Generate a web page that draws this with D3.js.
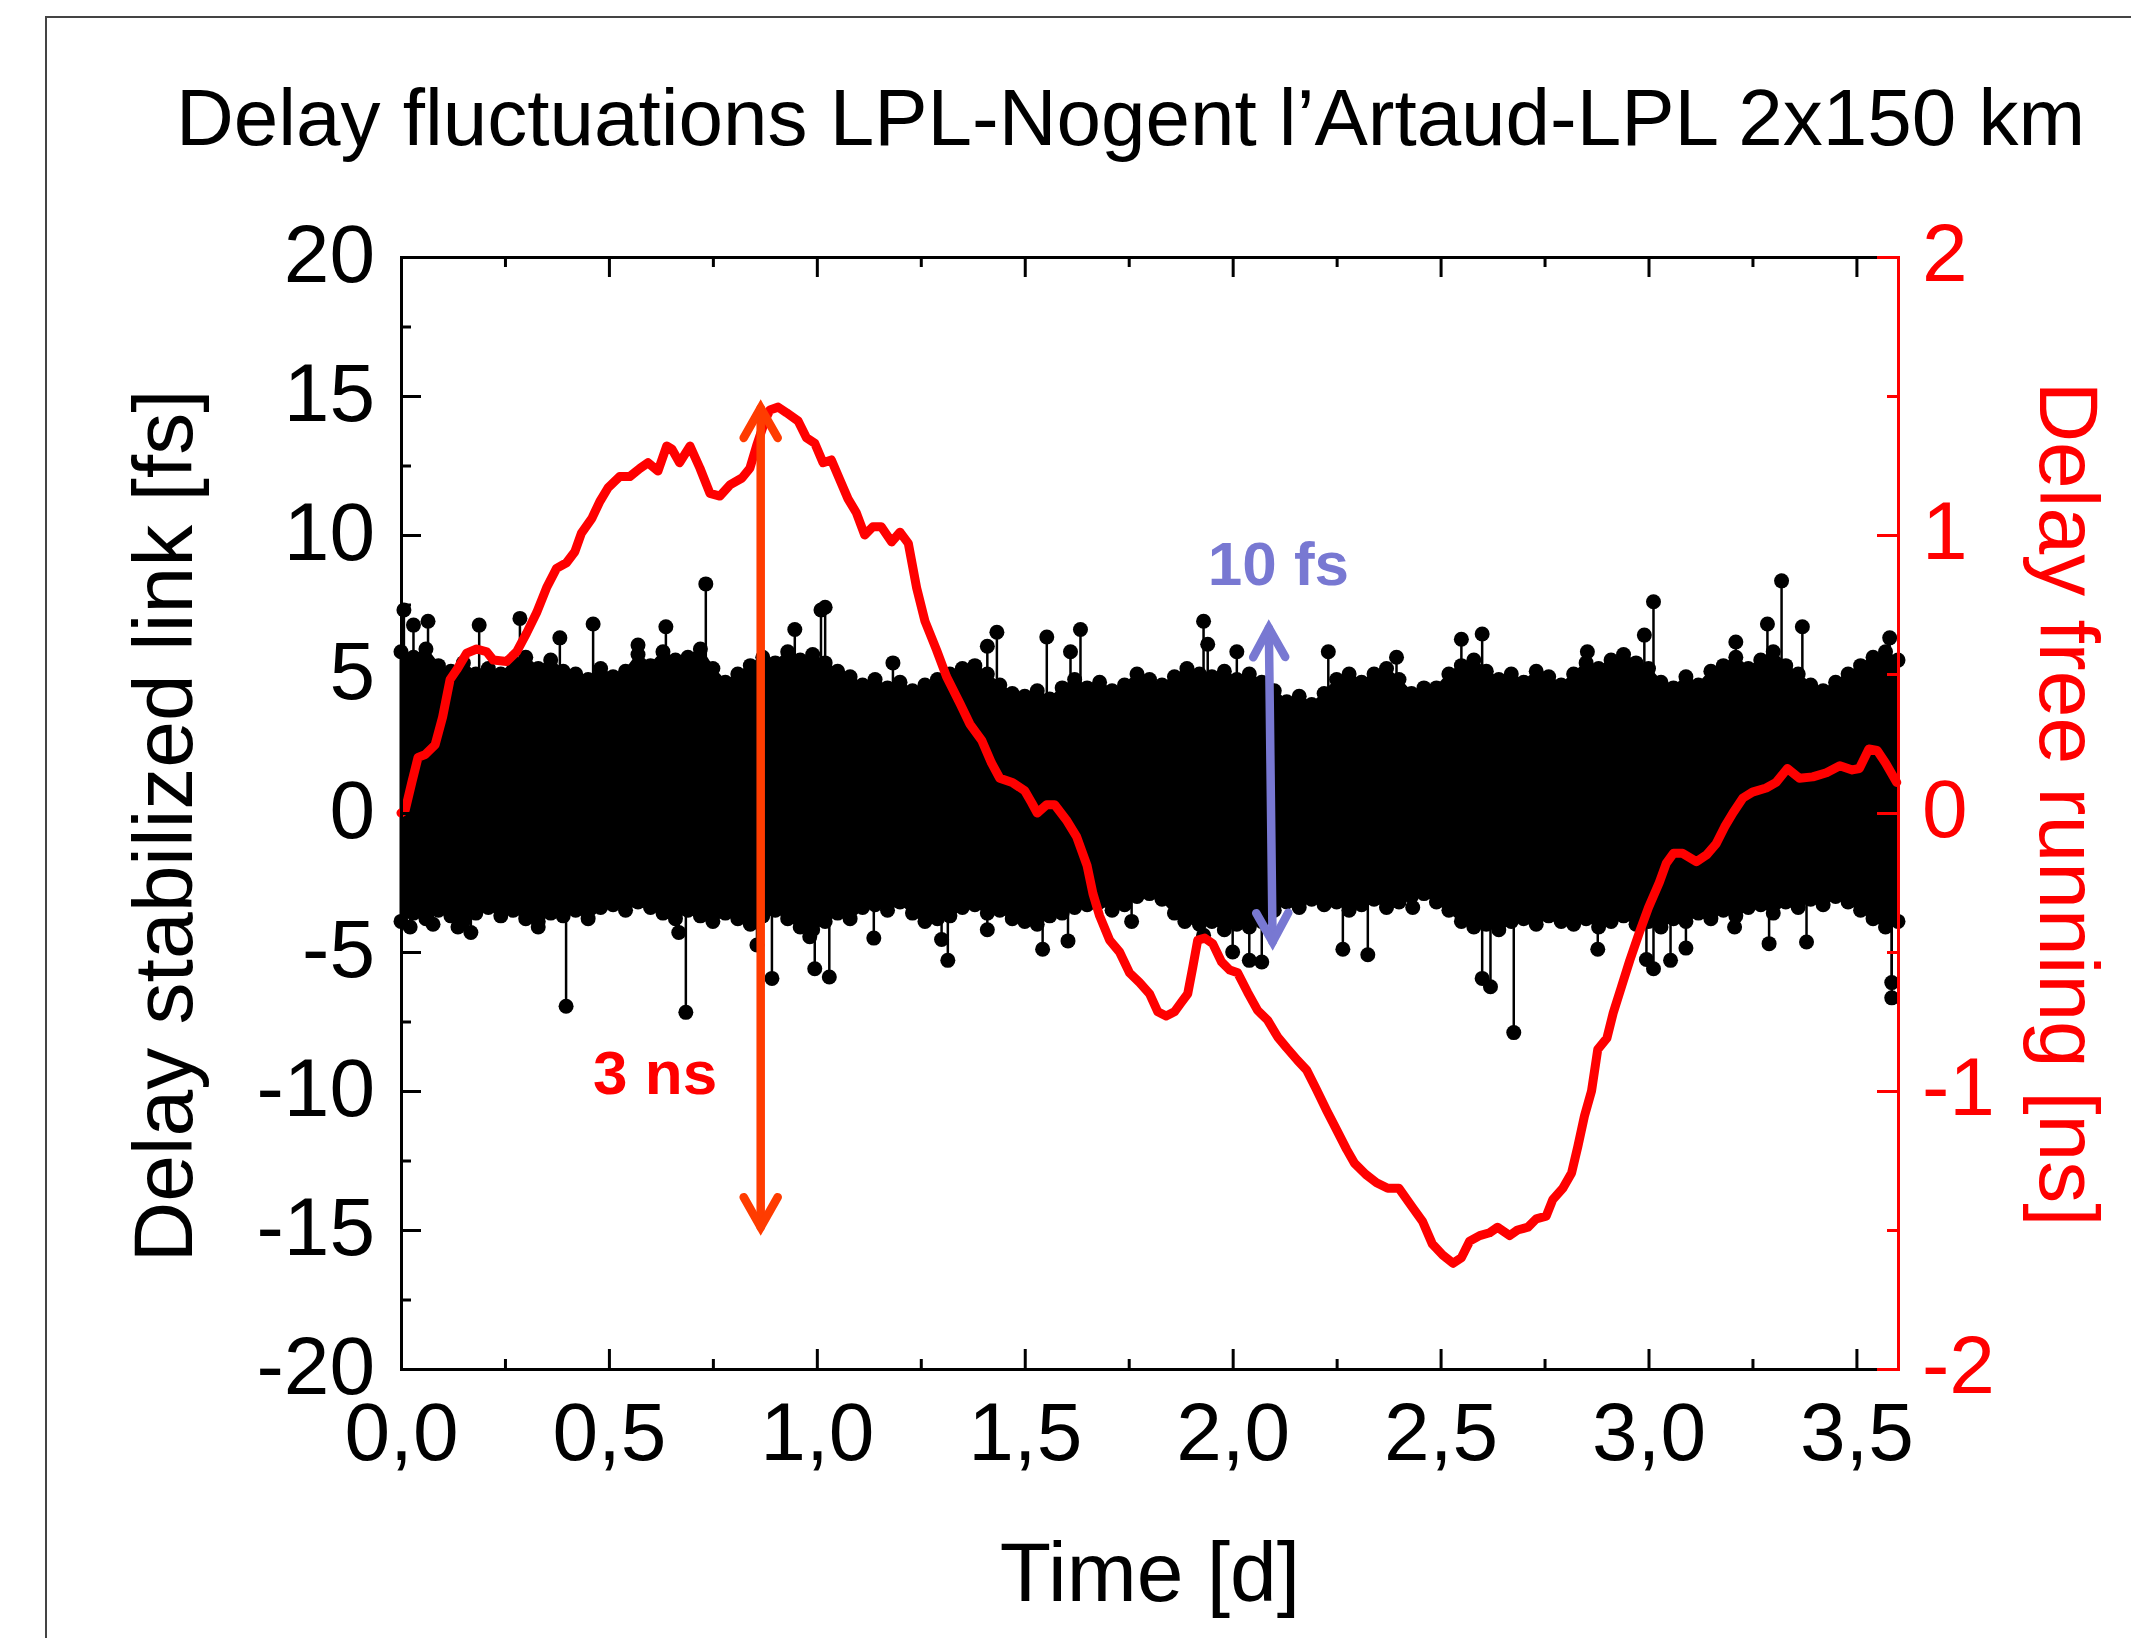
<!DOCTYPE html>
<html>
<head>
<meta charset="utf-8">
<script src="https://cdn.jsdelivr.net/npm/d3@7"></script>
<style>
  html, body { margin: 0; padding: 0; background: #fff; }
  svg { display: block; }
  text { font-family: "Liberation Sans", Arial, Helvetica, sans-serif; }
</style>
</head>
<body>
<svg id="chart" width="2131" height="1638"></svg>
<script>
// ---------------- data ----------------
const titleText = "Delay fluctuations LPL-Nogent l\u2019Artaud-LPL 2x150 km";
const xLabel = "Time [d]";
const yLeftLabel = "Delay stabilized link [fs]";
const yRightLabel = "Delay free running [ns]";

const xMajorTicks = [0, 0.5, 1.0, 1.5, 2.0, 2.5, 3.0, 3.5];
const xTickLabels = ["0,0", "0,5", "1,0", "1,5", "2,0", "2,5", "3,0", "3,5"];
const xMinorTicks = [0.25, 0.75, 1.25, 1.75, 2.25, 2.75, 3.25];
const yLeftMajor = [-20, -15, -10, -5, 0, 5, 10, 15, 20];
const yLeftMinor = [-17.5, -12.5, -7.5, -2.5, 2.5, 7.5, 12.5, 17.5];
const yRightMajor = [-2, -1, 0, 1, 2];
const yRightMinor = [-1.5, -0.5, 0.5, 1.5];

// Free-running delay (ns)
const redTime = [0.00,0.01,0.026,0.041,0.058,0.082,0.10,0.118,0.134,0.158,0.182,0.206,0.222,0.254,0.278,0.302,0.326,0.35,0.374,0.398,0.418,0.434,0.459,0.478,0.498,0.526,0.55,0.575,0.594,0.618,0.639,0.651,0.67,0.695,0.719,0.743,0.767,0.791,0.82,0.839,0.855,0.875,0.887,0.907,0.927,0.955,0.975,0.995,1.015,1.035,1.055,1.075,1.095,1.115,1.135,1.155,1.18,1.20,1.22,1.24,1.26,1.288,1.312,1.344,1.368,1.397,1.42,1.44,1.47,1.50,1.517,1.53,1.553,1.572,1.60,1.625,1.65,1.664,1.68,1.704,1.728,1.752,1.776,1.80,1.82,1.84,1.86,1.877,1.892,1.904,1.916,1.933,1.952,1.973,1.993,2.012,2.036,2.06,2.084,2.108,2.13,2.156,2.178,2.20,2.226,2.25,2.274,2.293,2.32,2.346,2.373,2.40,2.433,2.457,2.48,2.505,2.53,2.55,2.57,2.594,2.618,2.637,2.666,2.685,2.71,2.73,2.754,2.77,2.794,2.815,2.83,2.846,2.863,2.878,2.90,2.915,2.935,2.955,2.978,3.00,3.026,3.043,3.06,3.082,3.115,3.14,3.163,3.183,3.203,3.227,3.25,3.283,3.307,3.334,3.363,3.395,3.428,3.46,3.49,3.507,3.53,3.55,3.57,3.597];
const redDelay = [0.00,0.01,0.11,0.20,0.21,0.245,0.345,0.48,0.515,0.575,0.59,0.58,0.55,0.545,0.58,0.647,0.72,0.81,0.88,0.90,0.94,1.007,1.06,1.12,1.17,1.21,1.21,1.24,1.26,1.23,1.32,1.31,1.26,1.32,1.24,1.15,1.14,1.18,1.205,1.24,1.32,1.41,1.45,1.46,1.44,1.41,1.35,1.33,1.26,1.27,1.20,1.13,1.08,1.00,1.03,1.03,0.975,1.01,0.97,0.81,0.69,0.586,0.49,0.395,0.32,0.26,0.18,0.125,0.11,0.08,0.036,0.0,0.03,0.03,-0.025,-0.086,-0.19,-0.29,-0.37,-0.457,-0.50,-0.575,-0.61,-0.65,-0.715,-0.73,-0.715,-0.68,-0.65,-0.555,-0.457,-0.45,-0.47,-0.535,-0.565,-0.575,-0.645,-0.71,-0.745,-0.805,-0.845,-0.89,-0.925,-0.99,-1.07,-1.14,-1.21,-1.26,-1.30,-1.33,-1.35,-1.35,-1.42,-1.47,-1.55,-1.59,-1.62,-1.60,-1.54,-1.52,-1.51,-1.49,-1.52,-1.50,-1.49,-1.46,-1.45,-1.39,-1.35,-1.295,-1.20,-1.09,-1.00,-0.85,-0.81,-0.72,-0.625,-0.53,-0.43,-0.34,-0.25,-0.18,-0.145,-0.145,-0.175,-0.15,-0.11,-0.05,0.0,0.054,0.075,0.09,0.11,0.16,0.125,0.13,0.145,0.17,0.155,0.16,0.23,0.225,0.18,0.11];

// Stabilized link (fs): dense band, read as upper / lower edges of the point cloud
const bandTime = [0.00,0.03,0.06,0.09,0.12,0.15,0.18,0.21,0.24,0.27,0.30,0.33,0.36,0.39,0.42,0.45,0.48,0.51,0.54,0.57,0.60,0.63,0.66,0.69,0.72,0.75,0.78,0.81,0.84,0.87,0.90,0.93,0.96,0.99,1.02,1.05,1.08,1.11,1.14,1.17,1.20,1.23,1.26,1.29,1.32,1.35,1.38,1.41,1.44,1.47,1.50,1.53,1.56,1.59,1.62,1.65,1.68,1.71,1.74,1.77,1.80,1.83,1.86,1.89,1.92,1.95,1.98,2.01,2.04,2.07,2.10,2.13,2.16,2.19,2.22,2.25,2.28,2.31,2.34,2.37,2.40,2.43,2.46,2.49,2.52,2.55,2.58,2.61,2.64,2.67,2.70,2.73,2.76,2.79,2.82,2.85,2.88,2.91,2.94,2.97,3.00,3.03,3.06,3.09,3.12,3.15,3.18,3.21,3.24,3.27,3.30,3.33,3.36,3.39,3.42,3.45,3.48,3.51,3.54,3.57,3.60];
const bandUpper = [5.8,5.6,5.9,5.3,5.1,5.4,5.0,5.2,5.0,5.4,5.6,5.2,5.5,5.1,5.0,4.8,5.2,4.9,5.1,5.7,5.3,5.8,5.5,5.6,5.9,5.2,4.7,5.0,5.3,5.6,5.4,5.8,5.5,5.7,5.4,5.1,4.9,4.6,4.8,4.5,4.7,4.4,4.6,4.8,5.0,5.2,5.3,5.0,4.6,4.3,4.2,4.4,4.1,4.5,4.8,4.5,4.7,4.4,4.6,5.0,4.8,4.6,4.9,5.2,5.0,4.9,5.1,4.8,5.0,4.7,4.4,4.0,4.2,3.9,4.3,4.8,5.0,4.7,5.0,5.2,4.8,4.3,4.2,4.5,5.0,5.3,5.5,5.1,4.8,5.0,4.7,5.1,4.9,4.6,5.0,5.4,5.2,5.5,5.7,5.4,5.2,4.7,4.5,4.9,4.6,5.1,5.3,5.6,5.2,5.5,5.8,5.3,5.0,4.6,4.4,4.7,5.0,5.3,5.6,5.8,5.5];
const bandLower = [-3.9,-3.6,-3.8,-3.5,-3.7,-3.9,-3.6,-3.4,-3.7,-3.5,-3.8,-3.9,-3.6,-3.7,-3.5,-3.8,-3.4,-3.3,-3.5,-3.2,-3.4,-3.6,-3.8,-3.5,-3.7,-3.9,-3.6,-3.8,-4.0,-3.7,-3.5,-3.8,-4.1,-4.2,-3.9,-3.6,-3.8,-3.4,-3.3,-3.5,-3.2,-3.6,-3.9,-3.8,-3.7,-3.4,-3.3,-3.6,-3.5,-3.8,-3.9,-4.0,-3.7,-3.6,-3.4,-3.3,-3.2,-3.5,-3.3,-3.0,-2.9,-3.1,-3.6,-3.8,-4.0,-3.9,-4.2,-4.0,-4.1,-3.9,-3.5,-3.2,-3.4,-3.1,-3.3,-3.2,-3.5,-3.3,-3.1,-3.4,-3.2,-3.0,-2.9,-3.2,-3.5,-3.9,-4.1,-4.0,-4.2,-3.9,-3.8,-4.0,-3.7,-3.9,-4.0,-3.8,-4.1,-3.9,-3.7,-4.0,-3.9,-4.1,-3.8,-3.9,-3.6,-3.8,-3.5,-3.7,-3.4,-3.3,-3.6,-3.2,-3.4,-3.1,-3.3,-3.0,-3.2,-3.5,-3.8,-4.1,-3.9];

// Isolated excursions of the stabilized link (fs)
const spikeTime = [0.007,0.03,0.065,0.188,0.286,0.382,0.462,0.57,0.637,0.733,0.947,1.01,1.02,1.183,1.41,1.433,1.553,1.61,1.634,1.93,1.94,2.01,2.23,2.394,2.46,2.55,2.60,2.853,2.99,3.012,3.21,3.286,3.32,3.37,3.58,
  0.022,0.077,0.137,0.168,0.33,0.397,0.668,0.685,0.856,0.892,0.983,0.995,1.03,1.137,1.30,1.315,1.41,1.543,1.604,1.757,1.885,1.93,2.0,2.04,2.07,2.265,2.325,2.433,2.60,2.62,2.676,2.878,2.995,3.012,3.053,3.09,3.144,3.207,3.29,3.38,3.585,3.585];
const spikeValue = [7.3,6.76,6.9,6.76,7.0,6.3,6.8,6.04,6.7,8.24,6.6,7.3,7.4,5.4,6.0,6.5,6.33,5.8,6.6,6.9,6.07,5.8,5.8,5.6,4.5,6.25,6.44,5.8,6.4,7.6,6.15,6.8,8.35,6.7,6.3,
  -4.1,-4.0,-4.1,-4.3,-4.1,-6.95,-4.3,-7.17,-4.75,-5.95,-4.45,-5.6,-5.9,-4.5,-4.55,-5.3,-4.2,-4.9,-4.6,-3.9,-3.9,-4.4,-5.0,-5.3,-5.36,-4.9,-5.1,-3.4,-5.95,-6.25,-7.9,-4.9,-5.27,-5.6,-5.3,-4.86,-3.6,-4.1,-4.7,-4.64,-6.1,-6.65];

// Annotations
const rangeArrowNs = { t: [0.865, 0.865], v: [1.457, -1.49], label: "3 ns", labelT: 0.462, labelV: -1.011 };
const rangeArrowFs = { t: [2.087, 2.096], v: [6.65, -4.64], label: "10 fs", labelT: 1.94, labelV: 8.2 };

// ---------------- drawing ----------------
const svg = d3.select("#chart");
const W = 2131, H = 1638;
const plot = { left: 401, right: 1898, top: 257, bottom: 1369 };

const x = d3.scaleLinear().domain([0, 3.6]).range([plot.left, plot.right]);
const yL = d3.scaleLinear().domain([-20, 20]).range([plot.bottom, plot.top]);
const yR = d3.scaleLinear().domain([-2, 2]).range([plot.bottom, plot.top]);

const RED = "#ff0000";
const ARROW_RED = "#ff3c00";
const BLUE = "#7878d2";
const hyphen = v => String(v).replace("\u2212", "-");

// outer frame (top & left edges of the figure box)
svg.append("path")
  .attr("d", `M46,${H} L46,17 L${W},17`)
  .attr("fill", "none").attr("stroke", "#444").attr("stroke-width", 2);

// title
svg.append("text").attr("x", 176).attr("y", 145)
  .attr("font-size", 80).attr("fill", "#000").text(titleText);

// ---- stabilized link band ----
const DOT_R = 7.5;
const band = bandTime.map((t, i) => ({ t, hi: bandUpper[i], lo: bandLower[i] }));
const gBand = svg.append("g");
gBand.append("path").datum(band)
  .attr("d", d3.area().x(d => x(d.t)).y0(d => yL(d.lo)).y1(d => yL(d.hi)))
  .attr("fill", "#000").attr("stroke", "#000").attr("stroke-width", 3);

const spikes = spikeTime.map((t, i) => ({ t, v: spikeValue[i] }));
gBand.selectAll("line.stem").data(spikes).join("line")
  .attr("class", "stem")
  .attr("x1", d => x(d.t)).attr("x2", d => x(d.t))
  .attr("y1", d => yL(d.v)).attr("y2", yL(0))
  .attr("stroke", "#000").attr("stroke-width", 2.5);

const edgeDots = band.flatMap(d => [{ t: d.t, v: d.hi }, { t: d.t, v: d.lo }]);
gBand.selectAll("circle.edge").data(edgeDots).join("circle")
  .attr("class", "edge")
  .attr("cx", d => x(d.t)).attr("cy", d => yL(d.v)).attr("r", DOT_R).attr("fill", "#000");
gBand.selectAll("circle.spike").data(spikes).join("circle")
  .attr("class", "spike")
  .attr("cx", d => x(d.t)).attr("cy", d => yL(d.v)).attr("r", DOT_R).attr("fill", "#000");

// ---- free running curve ----
const red = redTime.map((t, i) => ({ t, v: redDelay[i] }));
svg.append("path").datum(red)
  .attr("d", d3.line().x(d => x(d.t)).y(d => yR(d.v)))
  .attr("fill", "none").attr("stroke", RED).attr("stroke-width", 9)
  .attr("stroke-linejoin", "round").attr("stroke-linecap", "round");

// ---- axes ----
function styleAxis(g, color, fontSize) {
  g.select(".domain").attr("stroke", color).attr("stroke-width", 3).attr("stroke-linecap", "square");
  g.selectAll(".tick line").attr("stroke", color).attr("stroke-width", 3);
  g.selectAll(".tick text").attr("fill", color).attr("font-size", fontSize)
    .attr("font-family", '"Liberation Sans", Arial, sans-serif');
  g.attr("font-family", null).attr("font-size", null);
}

// bottom
const gxB = svg.append("g").attr("transform", `translate(0,${plot.bottom})`)
  .call(d3.axisBottom(x).tickValues(xMajorTicks).tickSize(-20).tickSizeOuter(0).tickPadding(33)
    .tickFormat((d, i) => xTickLabels[i]));
styleAxis(gxB, "#000", 82);
const gxBm = svg.append("g").attr("transform", `translate(0,${plot.bottom})`)
  .call(d3.axisBottom(x).tickValues(xMinorTicks).tickSize(-10).tickSizeOuter(0).tickFormat(""));
styleAxis(gxBm, "#000", 82);
gxBm.select(".domain").remove();

// top
const gxT = svg.append("g").attr("transform", `translate(0,${plot.top})`)
  .call(d3.axisTop(x).tickValues(xMajorTicks).tickSize(-20).tickSizeOuter(0).tickFormat(""));
styleAxis(gxT, "#000", 82);
const gxTm = svg.append("g").attr("transform", `translate(0,${plot.top})`)
  .call(d3.axisTop(x).tickValues(xMinorTicks).tickSize(-10).tickSizeOuter(0).tickFormat(""));
styleAxis(gxTm, "#000", 82);
gxTm.select(".domain").remove();

// left
const gyL = svg.append("g").attr("transform", `translate(${plot.left},0)`)
  .call(d3.axisLeft(yL).tickValues(yLeftMajor).tickSize(-20).tickSizeOuter(0).tickPadding(26)
    .tickFormat(d => hyphen(d)));
styleAxis(gyL, "#000", 82);
gyL.selectAll(".tick text").attr("dy", "0.30em");
const gyLm = svg.append("g").attr("transform", `translate(${plot.left},0)`)
  .call(d3.axisLeft(yL).tickValues(yLeftMinor).tickSize(-10).tickSizeOuter(0).tickFormat(""));
styleAxis(gyLm, "#000", 82);
gyLm.select(".domain").remove();

// right (red)
const gyR = svg.append("g").attr("transform", `translate(${plot.right},0)`)
  .call(d3.axisRight(yR).tickValues(yRightMajor).tickSize(-21).tickSizeOuter(0).tickPadding(24)
    .tickFormat(d => hyphen(d)));
styleAxis(gyR, RED, 82);
gyR.selectAll(".tick text").attr("dy", "0.29em");
const gyRm = svg.append("g").attr("transform", `translate(${plot.right},0)`)
  .call(d3.axisRight(yR).tickValues(yRightMinor).tickSize(-11).tickSizeOuter(0).tickFormat(""));
styleAxis(gyRm, RED, 82);
gyRm.select(".domain").remove();

// axis titles
svg.append("text").attr("x", 1150).attr("y", 1601).attr("text-anchor", "middle")
  .attr("font-size", 84).attr("fill", "#000").text(xLabel);
svg.append("text").attr("transform", "translate(192,826) rotate(-90)").attr("text-anchor", "middle")
  .attr("font-size", 84).attr("fill", "#000").text(yLeftLabel);
svg.append("text").attr("transform", "translate(2040,804) rotate(90)").attr("text-anchor", "middle")
  .attr("font-size", 84).attr("fill", RED).text(yRightLabel);

// ---- double arrows ----
function doubleArrow(p1, p2, color, width, headLen, headHalf) {
  const g = svg.append("g").attr("stroke", color).attr("stroke-width", width)
    .attr("fill", "none").attr("stroke-linecap", "round").attr("stroke-linejoin", "miter");
  g.append("line").attr("x1", p1[0]).attr("y1", p1[1]).attr("x2", p2[0]).attr("y2", p2[1]);
  const head = (tip, from) => {
    const dx = tip[0] - from[0], dy = tip[1] - from[1];
    const L = Math.hypot(dx, dy), ux = dx / L, uy = dy / L;
    const bx = tip[0] - ux * headLen, by = tip[1] - uy * headLen;
    const nx = -uy, ny = ux;
    g.append("path").attr("d",
      `M${bx + nx * headHalf},${by + ny * headHalf} L${tip[0]},${tip[1]} L${bx - nx * headHalf},${by - ny * headHalf}`);
  };
  head(p1, p2); head(p2, p1);
}
doubleArrow([x(rangeArrowNs.t[0]), yR(rangeArrowNs.v[0])], [x(rangeArrowNs.t[1]), yR(rangeArrowNs.v[1])],
  ARROW_RED, 8.5, 30, 17);
doubleArrow([x(rangeArrowFs.t[0]), yL(rangeArrowFs.v[0])], [x(rangeArrowFs.t[1]), yL(rangeArrowFs.v[1])],
  BLUE, 8.5, 29, 16);

svg.append("text").attr("x", x(rangeArrowNs.labelT)).attr("y", yR(rangeArrowNs.labelV))
  .attr("font-size", 62).attr("font-weight", "bold").attr("fill", RED).text(rangeArrowNs.label);
svg.append("text").attr("x", x(rangeArrowFs.labelT)).attr("y", yL(rangeArrowFs.labelV))
  .attr("font-size", 62).attr("font-weight", "bold").attr("fill", BLUE).text(rangeArrowFs.label);
</script>
</body>
</html>
